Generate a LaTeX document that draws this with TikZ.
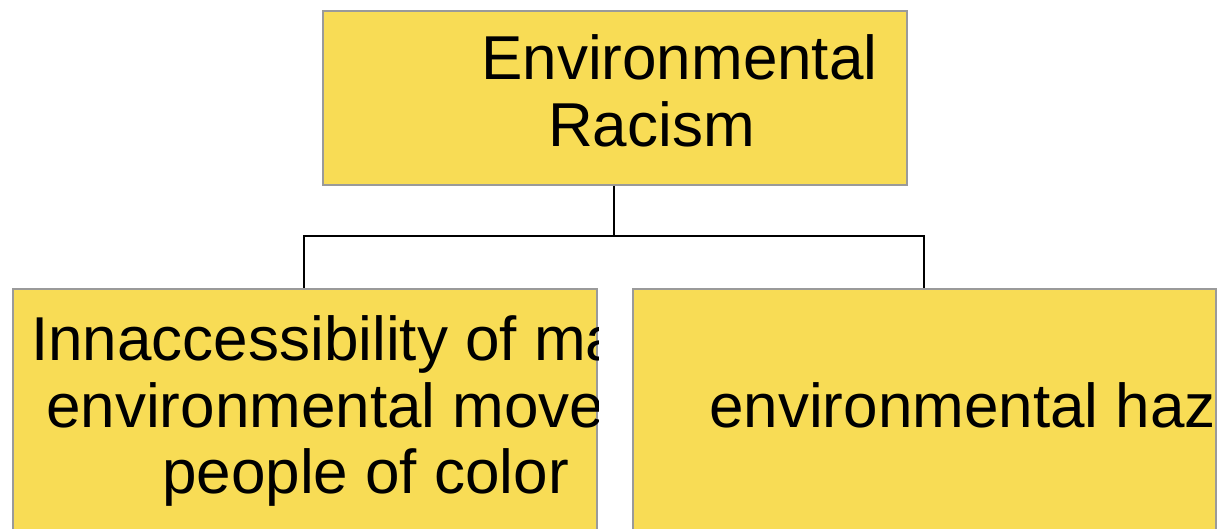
\documentclass[tikz,border=0pt]{standalone}
\usepackage{fontspec}
\setmainfont{Liberation Sans}
\definecolor{boxfill}{HTML}{F8DC55}
\definecolor{boxline}{HTML}{9A9A9A}
\begin{document}
\begin{tikzpicture}[x=1pt,y=-1pt,
  box/.style={draw=boxline,fill=boxfill,line width=2pt,rectangle,inner sep=0pt,anchor=north west},
  lbl/.style={anchor=base west,inner sep=0pt,font=\fontsize{62}{67}\selectfont},
  conn/.style={draw=black,line width=2pt}]
\useasboundingbox (0,0) rectangle (1221,529);
\node[box,minimum width=584pt,minimum height=174pt] (top) at (322,10) {};
\node[box,minimum width=584pt,minimum height=260pt] (left) at (12,288) {};
\node[box,minimum width=583pt,minimum height=260pt] (right) at (632,288) {};
\node[lbl] (t1) at (481,80) {Environmental};
\node[lbl] (t2) at (548,147) {Racism};
\begin{scope}
\clip (0,288) rectangle (598,529);
\node[lbl] (l1) at (31,360) {Innaccessibility of ma};
\node[lbl] (l2) at (46,427) {environmental move};
\node[lbl] (l3) at (162,493) {people of color};
\end{scope}
\begin{scope}
\clip (632,288) rectangle (1217,529);
\node[lbl] (r1) at (709,427) {environmental haz};
\end{scope}
\coordinate (mid) at (614,236);
\draw[conn] (614,0 |- top.south) -- (mid);
\draw[conn] (left.north -| 304,0) |- (mid) -| (right.north -| 924,0);
\end{tikzpicture}
\end{document}
